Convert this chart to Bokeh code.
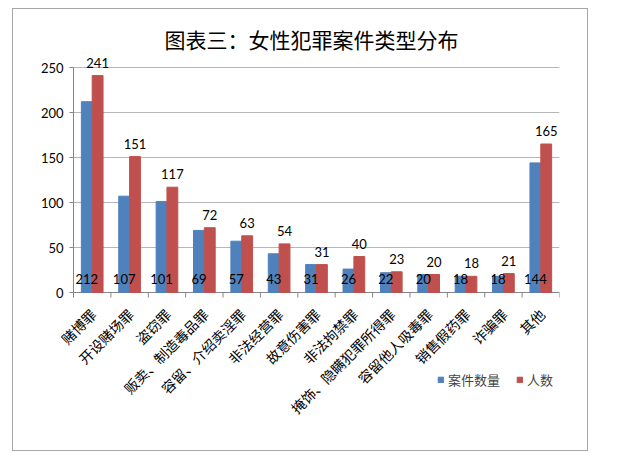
import math
from bokeh.plotting import figure
from bokeh.models import (ColumnDataSource, Range1d, Legend, LegendItem, Title)
from bokeh.core.properties import value
from bokeh.embed import file_html
from bokeh.resources import INLINE

categories = ["赌博罪", "开设赌场罪", "盗窃罪", "贩卖、制造毒品罪", "容留、介绍卖淫罪", "非法经营罪",
              "故意伤害罪", "非法拘禁罪", "掩饰、隐瞒犯罪所得罪", "容留他人吸毒罪", "销售假药罪",
              "诈骗罪", "其他"]
cases = [212, 107, 101, 69, 57, 43, 31, 26, 22, 20, 18, 18, 144]
people = [241, 151, 117, 72, 63, 54, 31, 40, 23, 20, 18, 21, 165]
series_names = ["案件数量", "人数"]
y_ticks = [0, 50, 100, 150, 200, 250]
y_max_axis = 250

BLUE = "#4F81BD"
RED = "#C0504D"
AXIS = "#868686"
CJK = "Noto Sans CJK SC"
NUM_FONT = "Lato"
OFF = 0.145
BW = 0.29

n = len(categories)

# layout (pixels, page coordinates)
FIG_LEFT, FIG_TOP, FIG_W, FIG_H = 12, 8, 576, 443
FRAME_L, FRAME_R, FRAME_T, FRAME_B = 13, 558, 53, 445
AXIS_X_PX = 72
Y0_PX, YTOP_PX = 291, 66
TITLE_L = 163
PX_PER_UNIT = (Y0_PX - YTOP_PX) / y_max_axis
PX_PER_CAT = (FRAME_R - AXIS_X_PX) / n
y_start = -(FRAME_B - Y0_PX) / PX_PER_UNIT
y_end = y_max_axis + (YTOP_PX - FRAME_T) / PX_PER_UNIT
x_start = -(AXIS_X_PX - FRAME_L) / PX_PER_CAT
TICK_Y = 5 / PX_PER_UNIT
TICK_X = 4 / PX_PER_CAT

centers = [i + 0.5 for i in range(n)]
src = ColumnDataSource(dict(xc=centers,
                            xb=[c - OFF for c in centers],
                            xr=[c + OFF for c in centers],
                            cat=categories,
                            cases=cases, people=people,
                            cases_s=[str(v) for v in cases],
                            people_s=[str(v) for v in people],
                            zero=[0] * n))
bounds = list(range(n + 1))
xtick_src = ColumnDataSource(dict(x=bounds, y0=[0] * len(bounds), y1=[-TICK_Y] * len(bounds)))
ytick_src = ColumnDataSource(dict(y=y_ticks, x0=[-TICK_X] * len(y_ticks), x1=[0] * len(y_ticks),
                                  xg=[n] * len(y_ticks), lab=[str(t) for t in y_ticks]))

p = figure(width=FIG_W, height=FIG_H, x_range=Range1d(x_start, n),
           y_range=Range1d(y_start, y_end), output_backend="svg", toolbar_location=None,
           x_axis_location=None, y_axis_location=None,
           min_border_left=FRAME_L - FIG_LEFT, min_border_right=FIG_LEFT + FIG_W - FRAME_R,
           min_border_top=FRAME_T - FIG_TOP, min_border_bottom=FIG_TOP + FIG_H - FRAME_B)
p.margin = (FIG_TOP, 0, 0, FIG_LEFT)
p.styles = {"border": "1px solid #a6a6a6", "box-sizing": "border-box"}
p.outline_line_color = None
p.background_fill_color = "white"
p.border_fill_color = "white"
p.xgrid.visible = False
p.ygrid.visible = False

p.title = Title(text="图表三：女性犯罪案件类型分布", align="left",
                text_font=CJK, text_font_size="21px", text_font_style="normal",
                text_color="#000000", offset=TITLE_L - FRAME_L)
p.title.standoff = 2

# gridlines
p.segment(x0="x1", y0="y", x1="xg", y1="y", source=ytick_src, line_color=AXIS, line_alpha=0.6,
          line_width=1)
# y axis line, ticks and labels
p.segment(x0=0, y0=0, x1=0, y1=y_max_axis, line_color=AXIS, line_width=1)
p.segment(x0="x0", y0="y", x1="x1", y1="y", source=ytick_src, line_color=AXIS, line_width=1)
p.text(x="x0", y="y", text="lab", source=ytick_src, text_align="right", text_baseline="middle",
       x_offset=-6, text_font=value(NUM_FONT), text_font_size="13px", text_color="black")
# x axis line and ticks
p.segment(x0=0, y0=0, x1=n, y1=0, line_color=AXIS, line_width=1)
p.segment(x0="x", y0="y0", x1="x", y1="y1", source=xtick_src, line_color=AXIS, line_width=1)

# bars
r1 = p.vbar(x="xb", top="cases", width=BW, source=src, fill_color=BLUE, line_color=BLUE)
r2 = p.vbar(x="xr", top="people", width=BW, source=src, fill_color=RED, line_color=RED)

# value labels
p.text(x="xb", y="zero", text="cases_s", source=src,
       text_align="center", text_baseline="middle", y_offset=-14,
       text_font=value(NUM_FONT), text_font_size="13px", text_color="black")
p.text(x="xr", y="people", text="people_s", source=src,
       text_align="center", text_baseline="middle", y_offset=-13,
       text_font=value(NUM_FONT), text_font_size="13px", text_color="black")

# category labels
p.text(x="xc", y="zero", text="cat", source=src, angle=math.pi / 4,
       text_align="right", text_baseline="middle", x_offset=1, y_offset=19,
       text_font=value(CJK), text_font_size="14px", text_color="black")

legend = Legend(items=[LegendItem(label=series_names[0], renderers=[r1]),
                       LegendItem(label=series_names[1], renderers=[r2])],
                orientation="horizontal", location=(436 - FRAME_L, 57),
                label_text_font=CJK, label_text_font_size="13px",
                glyph_width=7, glyph_height=7, label_standoff=4, spacing=16,
                border_line_color=None, background_fill_alpha=0, padding=0, margin=0)
p.add_layout(legend, "center")

open("out.html", "w").write(file_html(p, INLINE))
